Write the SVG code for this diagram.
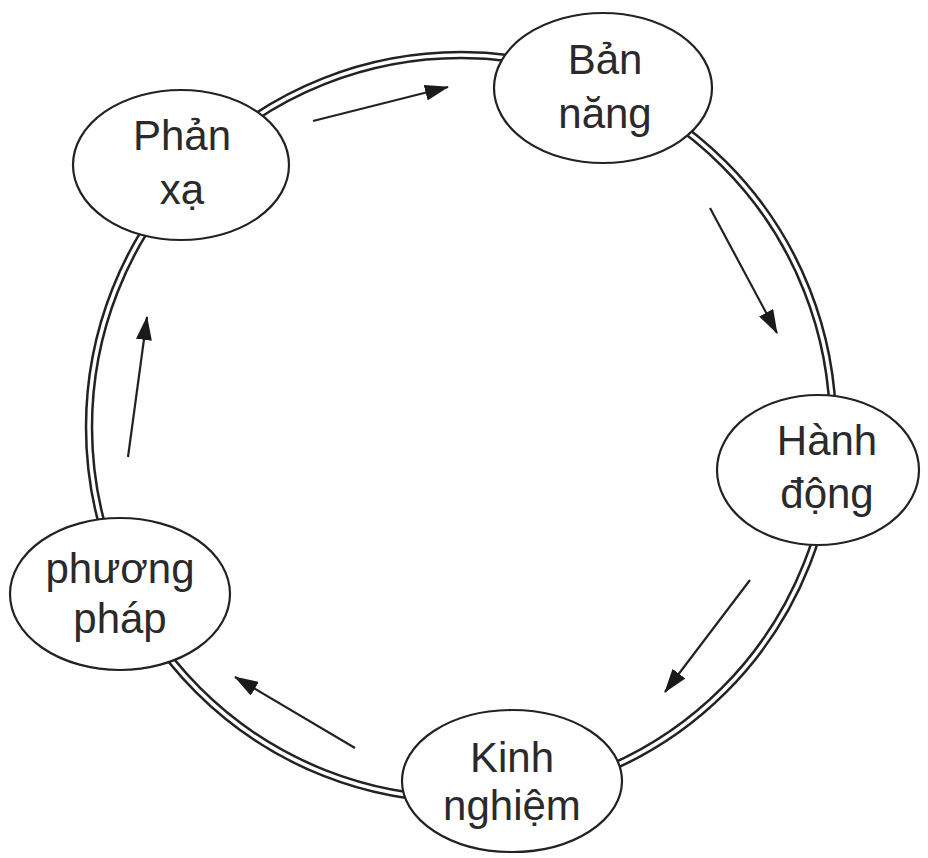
<svg xmlns="http://www.w3.org/2000/svg" width="928" height="858" viewBox="0 0 928 858">
<style>
.node{fill:#fff;stroke:#222;stroke-width:2.2}
.lbl{font-family:"Liberation Sans",Arial,sans-serif;font-size:42px;fill:#2a2a2a;text-anchor:middle}
.conn{stroke:#222;stroke-width:2.2;fill:none;marker-end:url(#ah)}
</style>
<defs>
<marker id="ah" viewBox="0 0 24 16" refX="23" refY="8" markerWidth="24" markerHeight="16" markerUnits="userSpaceOnUse" orient="auto">
<path d="M0,0 L24,8 L0,16 Z" fill="#1a1a1a"/>
</marker>
</defs>
<rect width="928" height="858" fill="#fff"/>
<g id="ring">
<circle cx="461" cy="427" r="372" fill="none" stroke="#222" stroke-width="8.5"/>
<circle cx="461" cy="427" r="372" fill="none" stroke="#fff" stroke-width="3.5"/>
</g>
<g id="connectors">
<line class="conn" x1="313" y1="121" x2="448" y2="87"/>
<line class="conn" x1="710" y1="208" x2="777" y2="333"/>
<line class="conn" x1="750" y1="580" x2="665" y2="692"/>
<line class="conn" x1="355" y1="748" x2="235" y2="677"/>
<line class="conn" x1="128" y1="457" x2="147" y2="317"/>
</g>
<g id="node-phan-xa">
<ellipse class="node" cx="181" cy="165" rx="108" ry="75"/>
<text class="lbl" x="182" y="150">Phản</text>
<text class="lbl" x="182" y="204">xạ</text>
</g>
<g id="node-ban-nang">
<ellipse class="node" cx="603" cy="88" rx="109" ry="75"/>
<text class="lbl" x="605" y="74">Bản</text>
<text class="lbl" x="605" y="128">năng</text>
</g>
<g id="node-hanh-dong">
<ellipse class="node" cx="818" cy="470" rx="101" ry="75"/>
<text class="lbl" x="827" y="455">Hành</text>
<text class="lbl" x="827" y="508">động</text>
</g>
<g id="node-kinh-nghiem">
<ellipse class="node" cx="512" cy="781" rx="110" ry="71"/>
<text class="lbl" x="512" y="772">Kinh</text>
<text class="lbl" x="512" y="820">nghiệm</text>
</g>
<g id="node-phuong-phap">
<ellipse class="node" cx="120" cy="594" rx="110" ry="76"/>
<text class="lbl" x="120" y="583">phương</text>
<text class="lbl" x="120" y="633">pháp</text>
</g>
</svg>
